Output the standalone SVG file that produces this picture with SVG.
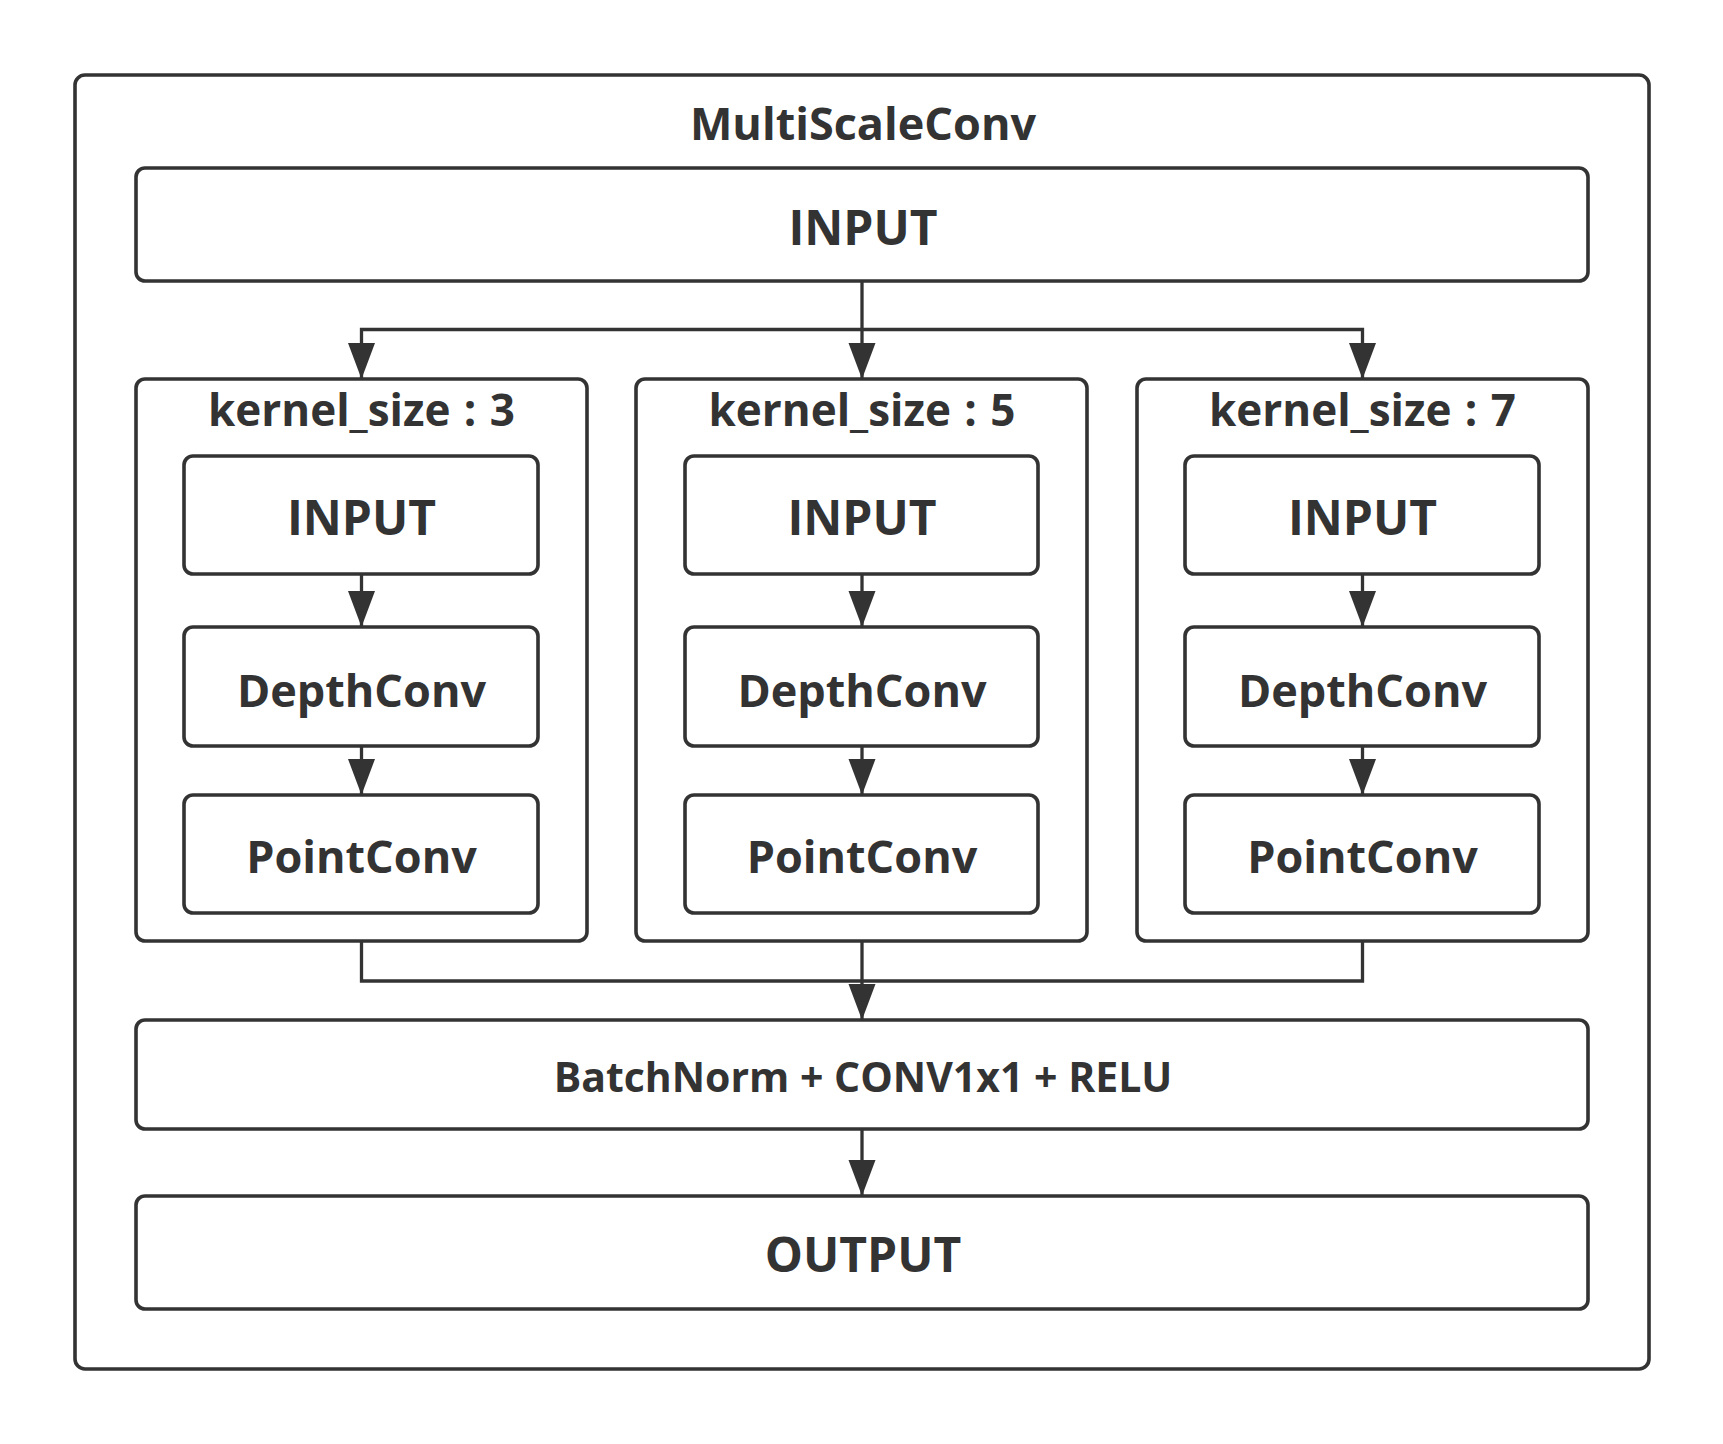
<svg xmlns="http://www.w3.org/2000/svg" width="1723" height="1444" viewBox="0 0 1723 1444">
<style>
.box{fill:#ffffff;stroke:#333333;stroke-width:3.6}
.ln{fill:none;stroke:#333333;stroke-width:3.3}
.t{font-family:"Open Sans","Noto Sans","Liberation Sans",sans-serif;font-weight:bold;fill:#333333;text-anchor:middle}
.big{font-size:48px}
.mid{font-size:45px}
.ks{font-size:44px;word-spacing:2px}
.bn{font-size:41px}
</style>
<defs>
<marker id="arr" markerUnits="userSpaceOnUse" markerWidth="37" markerHeight="28" refX="36" refY="13.5" orient="auto" viewBox="0 0 37 28">
<path d="M0,0 L36,13.5 L0,27 z" fill="#333333"/>
</marker>
</defs>
<rect width="1723" height="1444" fill="#ffffff"/>
<g id="outer">
<rect class="box" x="75" y="75" width="1574" height="1294" rx="10"/>
<text class="t mid" x="863" y="140">MultiScaleConv</text>
</g>
<g id="input">
<rect class="box" x="136" y="168" width="1452" height="113" rx="9"/>
<text class="t big" x="863" y="245">INPUT</text>
</g>
<g id="k3">
<rect class="box" x="136" y="379" width="451" height="562" rx="9"/>
<text class="t ks" x="361.5" y="426">kernel_size : 3</text>
</g>
<g id="k5">
<rect class="box" x="636" y="379" width="451" height="562" rx="9"/>
<text class="t ks" x="862" y="426">kernel_size : 5</text>
</g>
<g id="k7">
<rect class="box" x="1137" y="379" width="451" height="562" rx="9"/>
<text class="t ks" x="1362.5" y="426">kernel_size : 7</text>
</g>
<g id="k3-input">
<rect class="box" x="184" y="456" width="354" height="118" rx="9"/>
<text class="t big" x="361.5" y="535">INPUT</text>
</g>
<g id="k3-depth">
<rect class="box" x="184" y="627" width="354" height="119" rx="9"/>
<text class="t mid" x="361.5" y="707">DepthConv</text>
</g>
<g id="k3-point">
<rect class="box" x="184" y="795" width="354" height="118" rx="9"/>
<text class="t mid" x="361.5" y="873">PointConv</text>
</g>
<g id="k5-input">
<rect class="box" x="685" y="456" width="353" height="118" rx="9"/>
<text class="t big" x="862" y="535">INPUT</text>
</g>
<g id="k5-depth">
<rect class="box" x="685" y="627" width="353" height="119" rx="9"/>
<text class="t mid" x="862" y="707">DepthConv</text>
</g>
<g id="k5-point">
<rect class="box" x="685" y="795" width="353" height="118" rx="9"/>
<text class="t mid" x="862" y="873">PointConv</text>
</g>
<g id="k7-input">
<rect class="box" x="1185" y="456" width="354" height="118" rx="9"/>
<text class="t big" x="1362.5" y="535">INPUT</text>
</g>
<g id="k7-depth">
<rect class="box" x="1185" y="627" width="354" height="119" rx="9"/>
<text class="t mid" x="1362.5" y="707">DepthConv</text>
</g>
<g id="k7-point">
<rect class="box" x="1185" y="795" width="354" height="118" rx="9"/>
<text class="t mid" x="1362.5" y="873">PointConv</text>
</g>
<g id="bn">
<rect class="box" x="136" y="1020" width="1452" height="109" rx="9"/>
<text class="t bn" x="863" y="1092">BatchNorm + CONV1x1 + RELU</text>
</g>
<g id="output">
<rect class="box" x="136" y="1196" width="1452" height="113" rx="9"/>
<text class="t big" x="863" y="1272">OUTPUT</text>
</g>
<g id="connectors">
<path class="ln" d="M862,282 V379" marker-end="url(#arr)"/>
<path class="ln" d="M862,329.5 H361.5 V379" marker-end="url(#arr)"/>
<path class="ln" d="M862,329.5 H1362.5 V379" marker-end="url(#arr)"/>
<path class="ln" d="M361.5,574 V627" marker-end="url(#arr)"/>
<path class="ln" d="M361.5,746 V795" marker-end="url(#arr)"/>
<path class="ln" d="M862,574 V627" marker-end="url(#arr)"/>
<path class="ln" d="M862,746 V795" marker-end="url(#arr)"/>
<path class="ln" d="M1362.5,574 V627" marker-end="url(#arr)"/>
<path class="ln" d="M1362.5,746 V795" marker-end="url(#arr)"/>
<path class="ln" d="M361.5,941 V981 H862"/>
<path class="ln" d="M1362.5,941 V981 H862"/>
<path class="ln" d="M862,941 V1020" marker-end="url(#arr)"/>
<path class="ln" d="M862,1129 V1196" marker-end="url(#arr)"/>
</g>
</svg>
